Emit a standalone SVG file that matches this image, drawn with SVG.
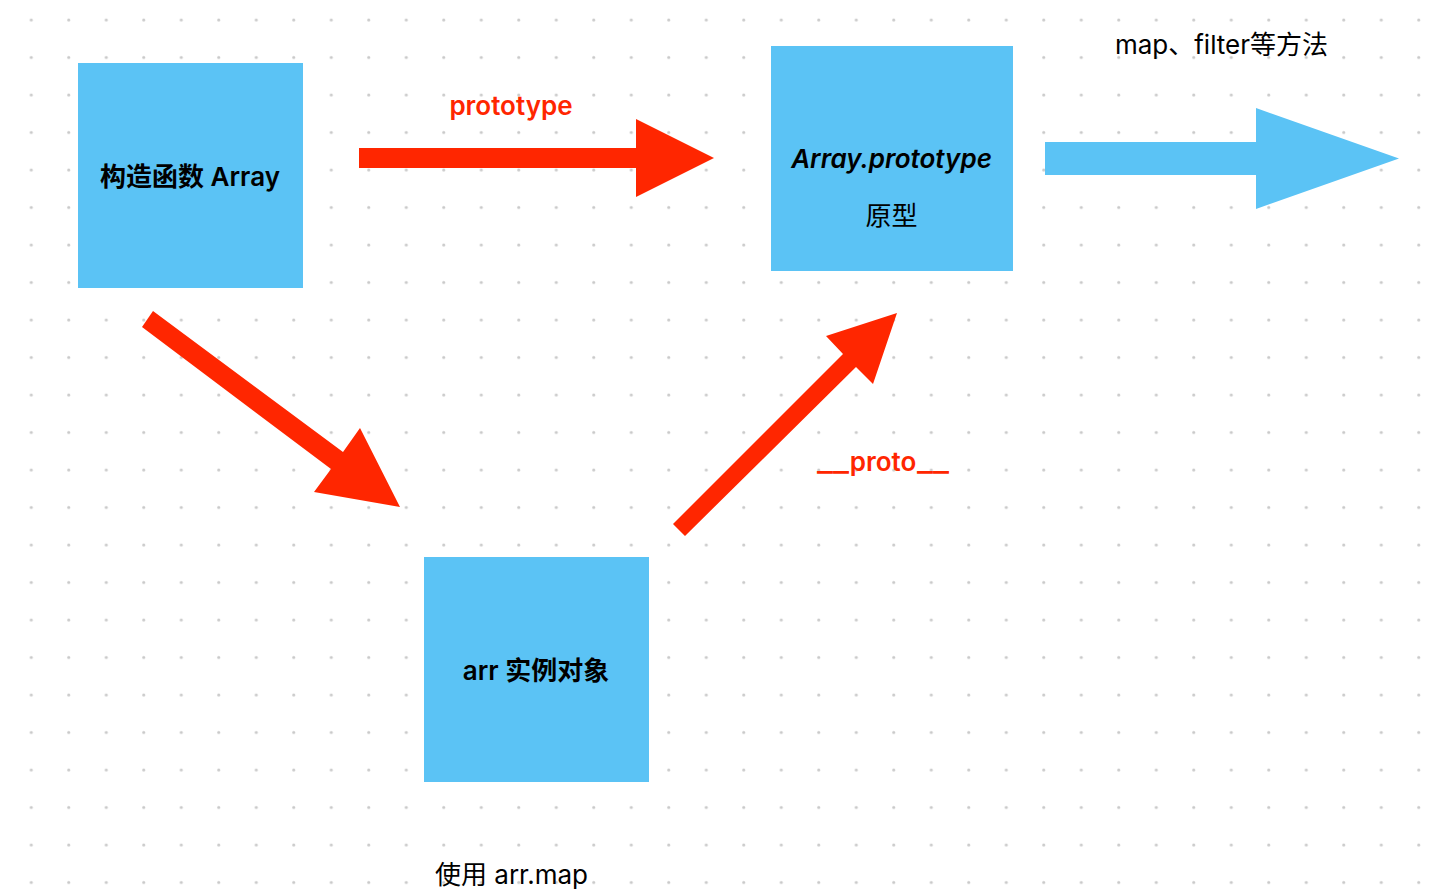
<svg xmlns="http://www.w3.org/2000/svg" width="1440" height="892" viewBox="0 0 1440 892">
  <defs>
    <pattern id="dots" x="0" y="0" width="37.5" height="37.5" patternUnits="userSpaceOnUse">
      <circle cx="31.25" cy="20" r="1.5" fill="#c9c9c9"/>
    </pattern>
  </defs>
  <style>
    .box { fill: #5bc3f5; }
    .red { fill: #ff2600; }
    .blue { fill: #5bc3f5; }
    text { font-family: Inter, "Noto Sans CJK SC", sans-serif; font-size: 26px; text-anchor: middle; fill: #000; }
    .b { font-weight: 600; }
    .lbl { fill: #ff2600; font-weight: 600; }
    .it { font-style: italic; font-weight: 600; }
    .st { text-anchor: start; }
  </style>
  <rect width="1440" height="892" fill="#ffffff"/>
  <rect width="1440" height="892" fill="url(#dots)"/>

  <g id="connectors">
    <polygon class="red" points="359,148 636,148 636,119 714,158 636,197 636,168 359,168"/>
    <polygon class="blue" points="1045,142 1256,142 1256,108 1399,158.5 1256,209 1256,175 1045,175"/>
    <polygon class="red" points="153,311 343,452 360,428 400,507 314,492 331,469 142,327"/>
    <polygon class="red" points="673,524 843,354 826,336 897,313 873,384 856,367 685,536"/>
    <text class="lbl" x="511" y="115">prototype</text>
    <g id="label-proto">
      <text class="lbl st" x="817" y="471" textLength="32" lengthAdjust="spacingAndGlyphs">__</text>
      <text class="lbl" x="883" y="471">proto</text>
      <text class="lbl st" x="917" y="471" textLength="32" lengthAdjust="spacingAndGlyphs">__</text>
    </g>
    <text x="1221.5" y="54">map、filter等方法</text>
  </g>

  <g id="node-constructor">
    <rect class="box" x="78" y="63" width="225" height="225"/>
    <text class="b" x="190" y="186">构造函数 Array</text>
  </g>

  <g id="node-prototype">
    <rect class="box" x="771" y="46" width="242" height="225"/>
    <text class="it" x="891.5" y="168">Array.prototype</text>
    <text x="891.5" y="225">原型</text>
  </g>

  <g id="node-instance">
    <rect class="box" x="424" y="557" width="225" height="225"/>
    <text class="b" x="536" y="680">arr 实例对象</text>
    <text x="511.5" y="884">使用 arr.map</text>
  </g>
</svg>
